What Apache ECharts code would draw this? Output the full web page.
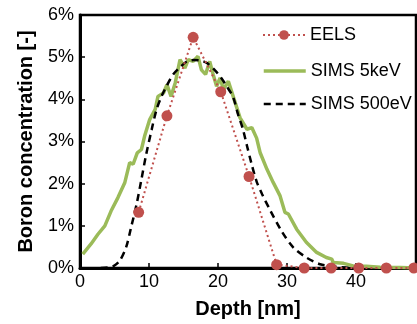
<!DOCTYPE html>
<html>
<head>
<meta charset="utf-8">
<script src="https://cdn.jsdelivr.net/npm/echarts@6/dist/echarts.min.js"></script>
<style>
  html, body { margin: 0; padding: 0; background: #fff; }
  #chart { width: 417px; height: 324px; }
</style>
</head>
<body>
<div id="chart"></div>
<script>
// Boron concentration depth profile: EELS points vs two SIMS profiles
const eelsDepth = [8.5, 12.6, 16.4, 20.4, 24.5, 28.5, 32.5, 36.4, 40.4, 44.4, 48.4];
const eelsConc = [1.32, 3.61, 5.47, 4.18, 2.17, 0.08, 0, 0, 0, 0, 0];

const sims5Depth = [0.4, 1.6, 2.6, 3.6, 4.5, 5.5, 6.5, 7.2, 7.7, 8.3, 8.9, 9.4, 10.1, 10.9, 11.3,
  12.1, 12.6, 13.2, 13.8, 14.5, 15.2, 15.7, 16.4, 17.1, 17.6, 18.2, 18.8, 19.3, 19.8, 20.3,
  20.8, 21.5, 22.2, 23.2, 24.2, 24.9, 25.6, 26.1, 27.1, 28.0, 29.0, 29.7, 30.2, 31.4, 32.8,
  34.3, 35.7, 36.5, 36.7, 38.2, 39.6, 41.5, 43.5, 46.4, 48.7];
const sims5Conc = [0.33, 0.57, 0.8, 1.0, 1.35, 1.67, 2.03, 2.5, 2.46, 2.73, 2.81, 3.15, 3.52, 3.76, 4.07,
  4.15, 4.35, 4.07, 4.39, 4.94, 4.74, 4.94, 4.9, 5.02, 4.7, 4.59, 4.9, 4.59, 4.31, 4.51,
  4.23, 4.43, 4.07, 3.56, 3.29, 3.33, 3.08, 2.74, 2.34, 2.03, 1.71, 1.32, 1.28, 0.92, 0.61,
  0.37, 0.25, 0.21, 0.13, 0.11, 0.05, 0.04, 0.02, 0.01, 0];

const sims500Depth = [3.0, 4.0, 4.8, 5.75, 6.7, 7.4, 8.2, 8.9, 9.6, 10.4, 11.1, 11.9, 12.6, 13.5,
  14.5, 15.5, 16.5, 17.5, 18.4, 19.6, 20.5, 21.3, 22.2, 22.9, 23.6, 24.2, 24.9, 25.6, 26.4,
  27.5, 29.2, 30.9, 32.8, 34.8, 36.7, 38.6, 40.0];
const sims500Conc = [0, 0.01, 0.04, 0.17, 0.5, 0.96, 1.51, 2.1, 2.7, 3.29, 3.76, 4.1, 4.33, 4.59,
  4.76, 4.9, 4.93, 4.92, 4.86, 4.68, 4.5, 4.3, 4.05, 3.65, 3.3, 2.9, 2.45, 2.05, 1.75,
  1.39, 0.88, 0.49, 0.25, 0.09, 0.04, 0.01, 0];

const xTicks = [0, 10, 20, 30, 40];
const yTicks = [0, 1, 2, 3, 4, 5, 6];

const pairs = (xs, ys) => xs.map((x, i) => [x, ys[i]]);

const font = '"Liberation Sans", Arial, sans-serif';

// two legend blocks so the first entry can sit a little higher, as in the original
const legendBase = {
  orient: 'vertical',
  left: 257,
  itemWidth: 42,
  itemHeight: 12,
  itemGap: 15,
  textStyle: { fontSize: 18, color: '#000', fontFamily: font }
};

const chart = echarts.init(document.getElementById('chart'));
chart.setOption({
  animation: false,
  textStyle: { fontFamily: font },
  grid: { left: 80, right: 1, top: 15, bottom: 55, show: true, borderColor: '#000', borderWidth: 2.5 },
  legend: [
    Object.assign({}, legendBase, { top: 21, data: ['EELS'] }),
    Object.assign({}, legendBase, {
      top: 57,
      data: [
        { name: 'SIMS 5keV', itemStyle: { opacity: 0 }, lineStyle: { width: 3.5 } },
        { name: 'SIMS 500eV', itemStyle: { opacity: 0 }, lineStyle: { width: 2.5 } }
      ]
    })
  ],
  xAxis: {
    type: 'value',
    min: 0,
    max: 48.7,
    interval: 10,
    name: 'Depth [nm]',
    nameLocation: 'middle',
    nameGap: 31,
    nameTextStyle: { fontSize: 20, fontWeight: 'bold', color: '#000' },
    axisLine: { show: true, lineStyle: { color: '#000', width: 3 } },
    axisTick: { show: true, inside: true, length: 5, lineStyle: { color: '#000', width: 1.5 } },
    axisLabel: {
      fontSize: 18, color: '#000', margin: 5, showMaxLabel: false,
      formatter: v => (xTicks.includes(v) ? String(v) : '')
    },
    splitLine: { show: false }
  },
  yAxis: {
    type: 'value',
    min: 0,
    max: 6,
    interval: 1,
    name: 'Boron concentration [-]',
    nameLocation: 'middle',
    nameGap: 44,
    nameTextStyle: { fontSize: 20, fontWeight: 'bold', color: '#000' },
    axisLine: { show: true, lineStyle: { color: '#000', width: 3 } },
    axisTick: { show: true, inside: true, length: 5, lineStyle: { color: '#000', width: 1.5 } },
    axisLabel: {
      fontSize: 18, color: '#000', margin: 6,
      formatter: v => (yTicks.includes(v) ? v + '%' : '')
    },
    splitLine: { show: false }
  },
  series: [
    {
      name: 'EELS',
      type: 'line',
      z: 4,
      data: pairs(eelsDepth, eelsConc),
      symbol: 'circle',
      symbolSize: 11,
      itemStyle: { color: '#C0504D' },
      lineStyle: { color: '#C0504D', width: 2, type: [2, 3] }
    },
    {
      name: 'SIMS 5keV',
      type: 'line',
      z: 2,
      data: pairs(sims5Depth, sims5Conc),
      showSymbol: false,
      itemStyle: { color: '#9BBB59' },
      lineStyle: { color: '#9BBB59', width: 3.5 }
    },
    {
      name: 'SIMS 500eV',
      type: 'line',
      z: 3,
      smooth: 0.3,
      data: pairs(sims500Depth, sims500Conc),
      showSymbol: false,
      itemStyle: { color: '#000' },
      lineStyle: { color: '#000', width: 2.5, type: [7, 5] }
    }
  ]
});
</script>
</body>
</html>
